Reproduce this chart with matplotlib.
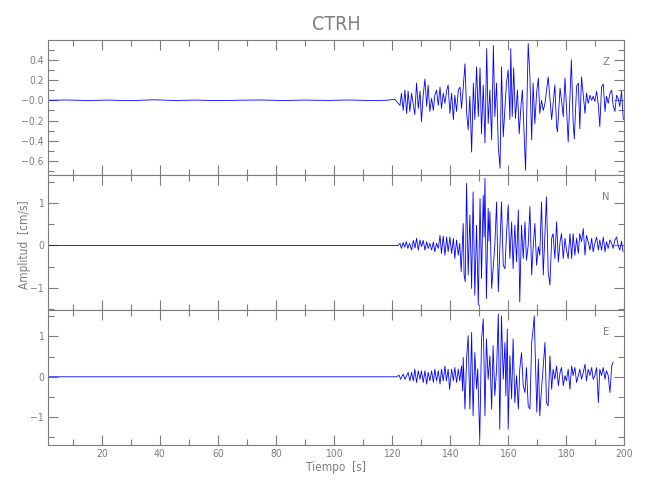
import matplotlib
matplotlib.use("Agg")
import matplotlib.pyplot as plt
from matplotlib.ticker import MultipleLocator, FixedLocator

# Sismograma de la estacion CTRH: tiempo [s] y amplitud [cm/s] (extremos)
estacion = "CTRH"
componentes = ["Z", "N", "E"]

z_t = [1.4, 8, 15, 22, 30, 38, 45, 52, 60, 68, 75, 82, 90, 98, 105, 112, 118, 121.0,
       122.8, 123.3, 123.9, 124.5, 125.1, 125.6, 126.2, 126.8, 127.9, 128.5, 129.1, 129.7,
       130.2, 130.8, 131.4, 132.0, 132.5, 133.1, 133.7, 134.3, 134.8, 135.4, 136.0, 136.6,
       137.1, 137.7, 138.3, 138.9, 139.4, 140.0, 140.6, 141.2, 141.7, 142.3, 142.9, 143.5,
       144.0, 144.6, 145.2, 145.8, 146.3, 146.9, 147.5, 148.1, 148.6, 149.2, 149.8, 150.4,
       150.9, 151.5, 152.1, 152.7, 153.2, 153.8, 154.4, 155.0, 155.5, 156.1, 156.7, 157.3,
       157.8, 158.4, 159.5, 160.1, 160.7, 161.0, 161.5, 162.0, 162.6, 163.3, 163.9, 164.5,
       165.0, 165.6, 166.1, 167.0, 167.6, 168.2, 168.7, 169.3, 169.9, 170.5, 171.0, 171.6,
       172.2, 172.8, 173.9, 175.1, 176.2, 176.8, 177.1, 178.0, 179.1, 179.7, 180.8, 181.9,
       182.5, 182.9, 183.7, 184.3, 184.8, 185.4, 186.6, 187.1, 187.7, 188.3, 188.9, 189.4,
       190.0, 190.6, 191.2, 191.7, 192.3, 192.9, 193.5, 194.0, 194.6, 195.2, 195.8, 196.3,
       196.9, 197.5, 198.0, 198.6, 199.2, 199.8]
z_v = [0.0, 0.003, -0.002, 0.002, -0.003, 0.005, -0.002, 0.002, -0.003, 0.001, 0.003, -0.002,
       0.002, -0.001, 0.003, -0.002, 0.0, 0.01,
       -0.05, 0.07, -0.10, 0.10, -0.13, 0.09, -0.11, 0.07, -0.14, 0.17, -0.08, 0.09,
       -0.21, 0.05, 0.21, -0.06, 0.15, -0.11, 0.02, -0.10, 0.05, 0.10, -0.05, 0.13,
       -0.08, 0.07, -0.03, 0.10, 0.15, -0.13, 0.07, -0.19, 0.05, -0.11, 0.10, 0.13,
       -0.08, 0.12, 0.36, -0.13, -0.29, 0.04, -0.51, 0.17, -0.19, 0.33, -0.16, 0.32,
       -0.33, 0.15, -0.42, 0.51, -0.23, 0.10, -0.39, 0.54, -0.16, 0.17, -0.46, -0.67,
       0.33, -0.36, 0.17, 0.30, -0.19, 0.51, -0.16, 0.32, -0.18, 0.10, -0.33, -0.06,
       0.10, -0.33, -0.69, 0.56, 0.23, -0.39, 0.17, -0.23, 0.07, 0.22, -0.13, 0.0,
       -0.10, -0.03, 0.23, -0.19, 0.15, -0.26, -0.31, 0.12, -0.16, 0.22, -0.41, 0.40,
       -0.21, -0.38, 0.14, 0.17, -0.28, 0.23, -0.13, 0.07, -0.03, 0.05, 0.0, 0.04,
       -0.01, 0.09, -0.05, -0.26, 0.13, 0.16, -0.11, 0.04, -0.03, 0.07, 0.10, -0.05,
       -0.11, 0.05, 0.02, -0.06, 0.09, -0.19]

n_t = [1.4, 40, 80, 122.2,
       122.8, 123.3, 123.9, 124.4, 125.0, 125.5, 126.1, 126.8, 127.4, 128.0, 128.5, 129.1,
       129.7, 130.2, 130.8, 131.4, 132.0, 132.5, 133.1, 133.7, 134.3, 134.8, 135.4, 136.0,
       136.6, 137.1, 137.7, 138.3, 138.9, 139.4, 140.0, 140.6, 141.2, 141.7, 142.3, 142.9,
       143.4, 143.9, 144.6, 144.9, 145.3, 145.75, 146.3, 146.9, 147.5, 148.0, 148.6, 149.2,
       149.8, 150.4, 150.9, 151.5, 151.8, 152.1, 152.6, 153.2, 153.5, 153.8, 154.4, 155.5,
       156.1, 156.7, 157.2, 157.8, 158.4,
       159.0, 159.5, 160.1, 160.7, 161.3, 161.8, 162.4, 163.0, 163.6, 164.1, 164.7, 165.3,
       165.9, 166.4, 167.0, 167.6, 168.2, 168.7, 169.3, 169.9, 170.5, 171.0, 171.6, 172.2,
       172.8, 173.3, 173.9, 174.5, 175.1, 175.6, 176.2, 176.8, 177.4, 178.0, 178.5, 179.1,
       179.7, 180.2, 180.8, 181.4, 182.0, 182.5, 183.1, 183.7, 184.3, 184.8, 185.4, 186.0,
       186.6, 187.1, 187.7, 188.3, 188.9, 189.4, 190.0, 190.6, 191.2, 191.7, 192.3, 192.9,
       193.5, 194.0, 194.6, 195.2, 195.8, 196.3, 196.9, 197.5, 198.0, 198.6, 199.2, 199.7]
n_v = [0.0, 0.0, 0.0, 0.0,
       0.05, -0.07, 0.07, -0.04, 0.09, -0.07, 0.05, -0.11, 0.12, -0.06, 0.17, -0.11,
       0.13, -0.03, 0.12, -0.11, 0.09, -0.07, 0.05, -0.11, 0.08, -0.15, 0.05, -0.07,
       0.24, -0.19, 0.22, -0.23, 0.20, -0.15, 0.20, -0.19, 0.17, -0.31, 0.13, -0.23,
       0.05, -0.62, 0.52, -0.70, -0.86, 1.47, -0.70, 0.72, -1.02, 1.27, -1.18, 0.48,
       -1.41, 1.11, -0.78, 1.19, 0.20, 1.59, -1.26, 0.88, 0.10, 0.80, -1.02, 0.0,
       1.03, -1.10, -0.15, 1.03, -0.47,
       -0.55, 0.24, 0.96, -0.31, 0.56, -0.55, 0.48, -0.39, 0.84, -1.34, 0.48, -0.31,
       0.56, -0.35, 0.0, 0.92, -0.70, -0.07, 0.52, -0.47, -0.03, -0.23, 1.03, -0.70,
       0.32, 1.15, -0.62, -0.94, 0.17, 0.28, -0.31, 0.56, -0.39, 0.09, 0.28, -0.31,
       0.17, -0.11, -0.31, 0.28, -0.31, 0.28, -0.23, 0.17, -0.19, 0.28, 0.09, 0.40,
       -0.23, 0.24, 0.09, -0.11, 0.17, -0.15, 0.05, 0.20, -0.11, 0.13, -0.11, 0.20,
       -0.15, 0.09, -0.07, 0.13, 0.05, -0.07, 0.13, 0.20, 0.0, -0.11, 0.10, -0.15]

e_t = [1.4, 40, 80, 121.6,
       122.5, 123.0, 123.9, 124.5, 125.6, 126.2, 126.8, 127.4, 127.9, 128.5, 129.1, 129.7,
       130.2, 130.8, 131.4, 132.0, 132.5, 133.1, 133.7, 134.3, 134.8, 135.4, 136.0, 136.6,
       137.1, 137.7, 138.3, 138.8, 139.4, 139.9, 140.6, 141.2, 141.7, 142.3, 142.9, 143.4,
       144.0, 144.4, 144.6, 145.2, 145.8, 146.3, 146.9, 147.5, 148.0, 148.6, 149.2, 149.6,
       150.3, 150.9, 151.5, 152.1, 152.6, 153.2, 153.8, 154.4, 154.9, 155.5, 156.1, 156.7,
       157.2, 157.8, 158.4,
       159.0, 159.3, 159.8, 160.1, 160.7, 161.3, 161.8, 162.4, 163.0, 163.6, 164.1, 164.7,
       165.3, 165.9, 166.4, 167.0, 167.6, 168.2, 168.7, 169.1, 169.5, 170.0, 170.5, 171.0,
       171.6, 172.2, 172.8, 173.3, 173.9, 174.5, 175.1, 175.6, 176.2, 176.8, 177.4, 178.0,
       178.5, 179.1, 179.7, 180.2, 180.8, 181.4, 182.0, 182.5, 183.1, 183.7, 184.3, 184.8,
       185.4, 186.0, 186.6, 187.1, 187.7, 188.3, 188.9, 189.4, 190.0, 190.6, 191.2, 191.7,
       192.3, 192.9, 193.5, 194.0, 194.6, 195.2, 195.8, 196.3]
e_v = [0.0, 0.0, 0.0, 0.0,
       0.04, -0.06, 0.07, -0.06, 0.11, -0.10, 0.11, -0.10, 0.19, -0.14, 0.15, -0.06,
       0.15, -0.14, 0.15, -0.18, 0.11, -0.10, 0.15, -0.14, 0.19, -0.10, 0.15, -0.18,
       0.19, -0.10, 0.27, -0.10, 0.19, -0.31, 0.19, -0.10, 0.23, -0.14, 0.19, -0.10,
       0.27, -0.35, 0.48, -0.80, 0.52, 1.02, -0.80, 1.10, -0.97, 0.60, -0.30, 0.20,
       -1.55, 0.90, 1.43, -0.97, 0.94, -0.06, 0.52, -0.80, 0.77, -0.47, 0.19, 1.56,
       -1.30, 1.51, -0.06,
       0.85, -0.47, 1.18, -1.30, 0.52, -0.55, 0.94, -0.64, 0.03, -0.80, 0.19, 0.60,
       -0.22, -0.39, 0.23, -0.72, -0.80, 0.85, 1.18, 1.51, 0.36, -0.88, 0.44, -0.97,
       -0.31, 0.27, 0.85, -0.64, -0.72, 0.52, -0.31, 0.19, -0.06, 0.27, -0.22, 0.11,
       0.23, -0.22, 0.03, -0.10, 0.19, -0.31, 0.27, 0.03, 0.23, -0.14, 0.03, 0.19,
       -0.06, 0.11, 0.31, -0.10, 0.19, 0.03, 0.23, -0.06, 0.03, 0.23, -0.64, 0.19,
       0.03, 0.23, -0.06, 0.15, 0.03, -0.39, 0.27, 0.36]

ylims = [(-0.736, 0.594), (-1.53, 1.67), (-1.69, 1.655)]

plt.rcParams['font.family'] = ['DejaVu Sans']
plt.rcParams['font.stretch'] = 'condensed'
gris = '#7d7d7d'

fig = plt.figure(figsize=(6.5, 5), dpi=100)
bottoms = [0.65, 0.38, 0.11]
series = [(z_t, z_v), (n_t, n_v), (e_t, e_v)]

for i, (t, v) in enumerate(series):
    ax = fig.add_axes([0.0738, bottoms[i], 0.886, 0.27])
    ax.plot(t, v, color='#0000ff', lw=0.6)
    ax.set_xlim(1.4, 200)
    ax.set_ylim(*ylims[i])
    ax.xaxis.set_major_locator(MultipleLocator(20))
    ax.xaxis.set_minor_locator(MultipleLocator(10))
    if i == 0:
        ax.yaxis.set_major_locator(FixedLocator([-0.6, -0.4, -0.2, 0.0, 0.2, 0.4]))
        ax.set_yticklabels(['\u22120.6', '\u22120.4', '\u22120.2', '\u22120.0', '0.2', '0.4'])
        ax.yaxis.set_minor_locator(MultipleLocator(0.1))
    else:
        ax.yaxis.set_major_locator(FixedLocator([-1, 0, 1]))
        ax.set_yticklabels(['\u22121', '0', '1'])
        ax.yaxis.set_minor_locator(MultipleLocator(0.5))
    ax.tick_params(which='both', direction='in', top=True, right=True,
                   color=gris, labelcolor=gris, labelsize=7.5, width=0.8, pad=3)
    ax.tick_params(which='major', length=7)
    ax.tick_params(which='minor', length=4)
    if i < 2:
        ax.tick_params(labelbottom=False)
    for s in ax.spines.values():
        s.set_color(gris)
        s.set_linewidth(0.8)
    ax.text(0.969, 0.84, componentes[i], transform=ax.transAxes, ha='center',
            va='center', color=gris, fontsize=8)

fig.text(0.517, 0.95, estacion, ha='center', va='center', color=gris, fontsize=14)
fig.text(0.038, 0.51, 'Amplitud  [cm/s]', rotation=90, ha='center', va='center',
         color=gris, fontsize=8.5)
fig.text(0.517, 0.064, 'Tiempo  [s]', ha='center', va='center', color=gris, fontsize=8.5)

fig.savefig('out.png', dpi=100)
